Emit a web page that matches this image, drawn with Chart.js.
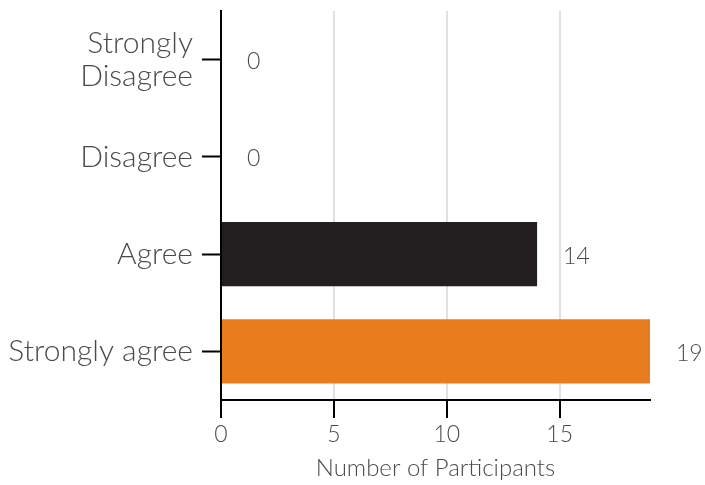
<!DOCTYPE html>
<html>
<head>
<meta charset="utf-8">
<script src="https://cdn.jsdelivr.net/npm/chart.js@4/dist/chart.umd.min.js"></script>
<style>
    html, body { margin: 0; padding: 0; background: #fff; }
    #wrap { width: 705px; height: 485px; }
</style>
</head>
<body>
<div id="wrap"><canvas id="chart" width="705" height="485"></canvas></div>
<script>
// --- Data ---
const categories = [["Strongly", "Disagree"], "Disagree", "Agree", "Strongly agree"];
const participants = [0, 0, 14, 19];
const barColors = ["#231f20", "#231f20", "#231f20", "#e87d1e"];
const xTickValues = [0, 5, 10, 15];
const xMax = 19;

const textColor = "#4a4a4a";
const fontFamily = "Lato, 'Open Sans', sans-serif";

// value labels to the right of each bar
const valueLabels = {
    id: "valueLabels",
    afterDatasetsDraw(chart) {
        const ctx = chart.ctx;
        const meta = chart.getDatasetMeta(0);
        ctx.save();
        ctx.font = "300 23px " + fontFamily;
        ctx.fillStyle = textColor;
        ctx.textAlign = "left";
        ctx.textBaseline = "middle";
        meta.data.forEach((bar, i) => {
            ctx.fillText(String(participants[i]), bar.x + 26, bar.y + 2);
        });
        ctx.restore();
    }
};

new Chart(document.getElementById("chart").getContext("2d"), {
    type: "bar",
    data: {
        labels: categories,
        datasets: [{
            label: "Number of Participants",
            data: participants,
            backgroundColor: barColors,
            categoryPercentage: 1,
            barPercentage: 0.66
        }]
    },
    options: {
        indexAxis: "y",
        responsive: false,
        animation: false,
        layout: { padding: { top: 11, right: 55, bottom: 0, left: 0 } },
        plugins: {
            legend: { display: false },
            tooltip: { enabled: false }
        },
        scales: {
            x: {
                type: "linear",
                min: 0,
                max: xMax,
                afterBuildTicks: (axis) => {
                    axis.ticks = xTickValues.map(v => ({ value: v }));
                },
                afterFit: (axis) => {
                    axis.height = 85;
                    axis.paddingLeft = 0;
                    axis.paddingRight = 0;
                },
                border: { display: true, color: "#000", width: 2 },
                grid: {
                    color: "#e0e0e0",
                    lineWidth: 2,
                    tickColor: "#000",
                    tickWidth: 2,
                    tickLength: 18
                },
                ticks: {
                    color: textColor,
                    padding: 3,
                    font: { family: fontFamily, size: 23, weight: "300" }
                },
                title: {
                    display: true,
                    text: "Number of Participants",
                    color: textColor,
                    padding: { top: 0, bottom: 2 },
                    font: { family: fontFamily, size: 24, weight: "300" }
                }
            },
            y: {
                afterFit: (axis) => {
                    axis.width = 221;
                    axis.paddingTop = 0;
                    axis.paddingBottom = 0;
                },
                border: { display: true, color: "#000", width: 2 },
                grid: {
                    offset: false,
                    drawOnChartArea: false,
                    tickColor: "#000",
                    tickWidth: 2,
                    tickLength: 19
                },
                ticks: {
                    color: textColor,
                    padding: 9,
                    font: { family: fontFamily, size: 30, weight: "300", lineHeight: 1.1 }
                }
            }
        }
    },
    plugins: [valueLabels]
});
</script>
</body>
</html>
